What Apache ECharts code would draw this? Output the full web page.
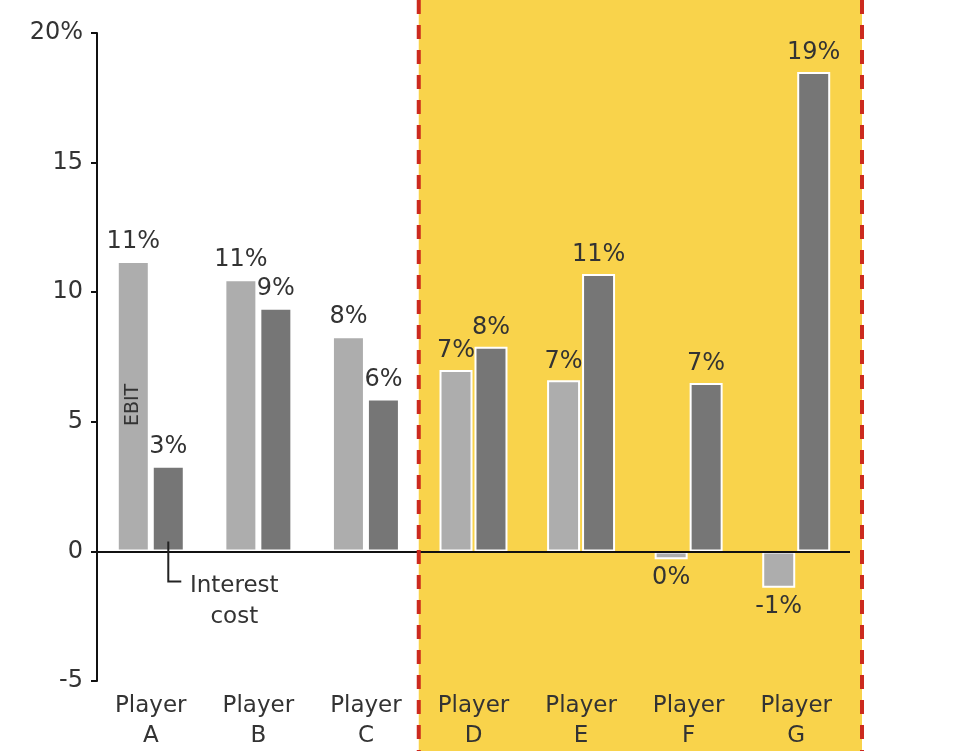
<!DOCTYPE html>
<html>
<head>
<meta charset="utf-8">
<script src="https://cdn.jsdelivr.net/npm/echarts@6/dist/echarts.min.js"></script>
<style>
  html, body { margin: 0; padding: 0; background: #fff; }
  #chart { width: 972px; height: 751px; }
</style>
</head>
<body>
<div id="chart"></div>
<script>
// data
const categories = ["Player\nA", "Player\nB", "Player\nC", "Player\nD", "Player\nE", "Player\nF", "Player\nG"];
const ebit = [11.2, 10.5, 8.3, 7.0, 6.6, -0.3, -1.4];
const interestCost = [3.3, 9.4, 5.9, 7.9, 10.7, 6.5, 18.5];
const yTicks = [-5, 0, 5, 10, 15, 20];

const FONT = "DejaVu Sans";
const myChart = echarts.init(document.getElementById("chart"));

const pctLabel = (p) => Math.round(p.value) + "%";

const barLabel = {
  show: true,
  fontFamily: FONT,
  fontSize: 24,
  color: "#333",
  distance: 7,
  formatter: pctLabel,
};

// negative bars get their label underneath
const withLabels = (arr) =>
  arr.map((v) => (v < 0 ? { value: v, label: { position: "bottom" } } : v));

const option = {
  backgroundColor: "#fff",
  animation: false,
  grid: { left: 97, right: 122, top: 33, bottom: 64 },
  xAxis: {
    type: "category",
    data: categories,
    axisLine: { show: false },
    axisTick: { show: false },
    axisLabel: {
      fontFamily: FONT,
      fontSize: 23,
      lineHeight: 30,
      color: "#333",
      margin: 10,
      interval: 0,
    },
  },
  yAxis: {
    type: "value",
    min: yTicks[0],
    max: yTicks[yTicks.length - 1],
    interval: 5,
    splitLine: { show: false },
    axisLine: { show: true, lineStyle: { color: "#111", width: 2 } },
    axisTick: { show: true, length: 6, lineStyle: { color: "#111", width: 2 } },
    axisLabel: {
      fontFamily: FONT,
      fontSize: 24,
      color: "#333",
      margin: 14,
      formatter: (v) => (v === 20 ? "20%" : String(v)),
    },
  },
  series: [
    {
      name: "EBIT",
      type: "bar",
      data: withLabels(ebit),
      barWidth: 33,
      barGap: "6%",
      itemStyle: { color: "#ADADAD", borderColor: "#fff", borderWidth: 2 },
      label: Object.assign({ position: "top" }, barLabel),
      markLine: {
        silent: true,
        symbol: "none",
        label: { show: false },
        lineStyle: { color: "#111", width: 2, type: "solid" },
        data: [{ yAxis: 0 }],
      },
    },
    {
      name: "Interest cost",
      type: "bar",
      data: withLabels(interestCost),
      barWidth: 33,
      itemStyle: { color: "#767676", borderColor: "#fff", borderWidth: 2 },
      label: Object.assign({ position: "top" }, barLabel),
    },
  ],
};

myChart.setOption(option);

// highlighted region D..G plus annotations, placed from the axis scale
const bandW = 107.5;
const xD = myChart.convertToPixel({ xAxisIndex: 0 }, categories[3]);
const bandLeft = xD - bandW / 2 - 1;
const bandRight = 862;
const zeroY = myChart.convertToPixel({ yAxisIndex: 0 }, 0);
const xA = myChart.convertToPixel({ xAxisIndex: 0 }, categories[0]);
const ebitX = xA - 17.5;
const intX = xA + 17.5;

const dashed = { stroke: "#CC2A1E", lineWidth: 4, lineDash: [14, 11] };

myChart.setOption({
  graphic: [
    {
      type: "rect",
      z: -10,
      shape: { x: bandLeft, y: 0, width: bandRight - bandLeft, height: 751 },
      style: { fill: "#F9D34B" },
    },
    {
      type: "line",
      z: 100,
      shape: { x1: bandLeft, y1: 0, x2: bandLeft, y2: 751 },
      style: dashed,
    },
    {
      type: "line",
      z: 100,
      shape: { x1: bandRight, y1: 0, x2: bandRight, y2: 751 },
      style: dashed,
    },
    {
      type: "text",
      z: 100,
      x: ebitX,
      y: 405,
      rotation: Math.PI / 2,
      style: {
        text: "EBIT",
        fontFamily: FONT,
        fontSize: 19,
        fill: "#333",
        align: "center",
        verticalAlign: "middle",
      },
    },
    {
      type: "polyline",
      z: 100,
      shape: { points: [[intX, zeroY - 10], [intX, zeroY + 30], [intX + 13, zeroY + 30]] },
      style: { stroke: "#222", lineWidth: 2, fill: null },
    },
    {
      type: "text",
      z: 100,
      x: intX + 66,
      y: zeroY + 19,
      style: {
        text: "Interest\ncost",
        fontFamily: FONT,
        fontSize: 23,
        lineHeight: 31,
        fill: "#333",
        align: "center",
        verticalAlign: "top",
      },
    },
  ],
});
</script>
</body>
</html>
